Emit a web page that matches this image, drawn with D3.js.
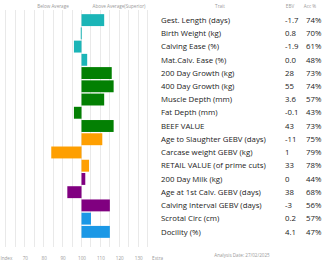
<!DOCTYPE html>
<html><head><meta charset="utf-8">
<script src="https://cdn.jsdelivr.net/npm/d3@7"></script>
<style>body{margin:0;background:#fff}svg{display:block}</style>
</head><body><div id="chart"></div>
<script>
const traits = ["Gest. Length (days)","Birth Weight (kg)","Calving Ease (%)","Mat.Calv. Ease (%)","200 Day Growth (kg)","400 Day Growth (kg)","Muscle Depth (mm)","Fat Depth (mm)","BEEF VALUE","Age to Slaughter GEBV (days)","Carcase weight GEBV (kg)","RETAIL VALUE (of prime cuts)","200 Day Milk (kg)","Age at 1st Calv. GEBV (days)","Calving Interval GEBV (days)","Scrotal Circ (cm)","Docility (%)"];
const ebvs = ["-1.7","0.8","-1.9","0.0","28","55","3.6","-0.1","43","-11","1","33","0","38","-3","0.2","4.1"];
const accs = ["74%","70%","61%","48%","73%","74%","57%","43%","73%","75%","79%","78%","44%","68%","56%","57%","47%"];
const indexValues = [112,99.6,96,103,116,117,112,96,117,111,84,104,102,92.5,115,105,115];
const groups = ["calving","calving","calving","calving","growth","growth","growth","growth","growth","carcase","carcase","carcase","fertility","fertility","fertility","other","other"];
const groupColors = {calving:"#1bb5b7",growth:"#038003",carcase:"#fe9f01",fertility:"#800080",other:"#1b98e6"};
const gridValues = [60,65,70,75,80,85,90,95,100,105,110,115,120,125,130,135];
const tickValues = [60,70,80,90,100,110,120,130,140];
const tickLabels = ["Index","70","80","90","100","110","120","130","Extra"];
const headers = {below:"Below Average",above:"Above Average(Superior)",trait:"Trait",ebv:"EBV",acc:"Acc %"};
const footer = "Analysis Date: 27/02/2025";

const W = 332, H = 265;
const svg = d3.select("#chart").append("svg").attr("width",W).attr("height",H);
const font = "'Open Sans', sans-serif";

const x = d3.scaleLinear().domain([100 - 40, 100 + 40]).range([5.9, 157.1]);
const y = d3.scaleBand().domain(d3.range(traits.length)).range([13.5, 238.5]).paddingInner(0.1).paddingOuter(0.05);

// grid
svg.append("g").selectAll("line").data(gridValues).join("line")
  .attr("x1",d=>x(d)).attr("x2",d=>x(d)).attr("y1",10).attr("y2",247)
  .attr("stroke","#e9e9e9").attr("stroke-width",1).attr("shape-rendering","crispEdges");

// bars
svg.append("g").selectAll("rect").data(indexValues).join("rect")
  .attr("x",(d)=>x(Math.min(d,100)))
  .attr("width",(d)=>Math.max(1,Math.abs(x(d)-x(100))))
  .attr("y",(d,i)=>y(i)).attr("height",y.bandwidth())
  .attr("fill",(d,i)=>groupColors[groups[i]]);

// tick labels
const axis = d3.axisBottom(x).tickValues(tickValues).tickFormat((d,i)=>tickLabels[i]).tickSize(0);
const ag = svg.append("g").attr("transform","translate(0,254)").call(axis);
ag.select(".domain").remove();
ag.selectAll("text").attr("font-family",font).attr("font-size",4.6).attr("fill","#999");

// headers
const hdr = svg.append("g").attr("font-family",font).attr("font-size",4.6).attr("fill","#999");
hdr.append("text").attr("x",53).attr("y",8).attr("text-anchor","middle").text(headers.below);
hdr.append("text").attr("x",119).attr("y",8).attr("text-anchor","middle").text(headers.above);
hdr.append("text").attr("x",220).attr("y",8).attr("text-anchor","middle").text(headers.trait);
hdr.append("text").attr("x",290).attr("y",8).attr("text-anchor","middle").text(headers.ebv);
hdr.append("text").attr("x",310).attr("y",8).attr("text-anchor","middle").text(headers.acc);

// table text
const rows = svg.append("g").attr("font-family",font).attr("font-size",7.8).attr("fill","#222");
rows.selectAll("text.t").data(traits).join("text").attr("class","t")
  .attr("x",161).attr("y",(d,i)=>y(i)+y.bandwidth()/2).attr("dy","0.35em").text(d=>d);
rows.selectAll("text.e").data(ebvs).join("text").attr("class","e")
  .attr("x",285).attr("y",(d,i)=>y(i)+y.bandwidth()/2).attr("dy","0.35em").text(d=>d);
rows.selectAll("text.a").data(accs).join("text").attr("class","a")
  .attr("x",306).attr("y",(d,i)=>y(i)+y.bandwidth()/2).attr("dy","0.35em").text(d=>d);

svg.append("text").attr("x",242).attr("y",257).attr("text-anchor","middle")
  .attr("font-family",font).attr("font-size",4.6).attr("fill","#999").text(footer);
</script></body></html>
